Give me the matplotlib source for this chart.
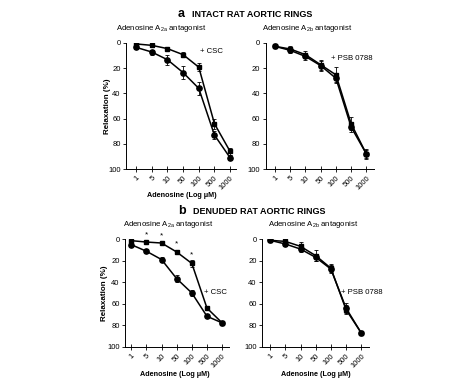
import matplotlib
matplotlib.use("Agg")
import matplotlib.pyplot as plt

plt.rcParams['font.family'] = ['Liberation Sans', 'DejaVu Sans']

doses = ['1', '5', '10', '50', '100', '500', '1000']

# panel a, intact rings
a_ctrl_a2a = [3.5, 7.2, 13.3, 23.5, 36, 73, 91]
a_ctrl_a2a_err = [1, 2, 4, 5, 5, 3, 2]
a_csc = [0.8, 1.9, 4.5, 9.3, 19.2, 64, 86]
a_csc_err = [1, 1, 1, 2, 3, 4, 3]
a_ctrl_a2b = [2.7, 5.9, 10.7, 18, 28, 66.7, 88]
a_ctrl_a2b_err = [1, 2, 3, 4, 4, 4, 3]
a_psb = [2.7, 4.8, 9.3, 17.3, 25.3, 64, 88]
a_psb_err = [1, 2, 3, 4, 6, 5, 4]

# panel b, denuded rings
b_ctrl_a2a = [5.2, 11.3, 19, 36.7, 50, 71.6, 77.7]
b_ctrl_a2a_err = [1, 2, 2, 3, 3, 1, 1]
b_csc = [1.5, 2.8, 3.7, 12, 22.6, 64, 77.7]
b_csc_err = [1, 1, 1, 2, 3, 2, 1]
b_ctrl_a2b = [1.2, 4.6, 9.3, 17, 27.8, 64, 87]
b_ctrl_a2b_err = [1, 2, 3, 3, 4, 5, 2]
b_psb = [1.2, 2.2, 6.8, 15.4, 27, 65.4, 87]
b_psb_err = [1, 2, 4, 5, 4, 4, 2]
b_star_idx = [1, 2, 3, 4]

fig = plt.figure(figsize=(4.74, 3.8), dpi=100)

axes_pos = [[0.266, 0.555, 0.232, 0.332],
            [0.561, 0.555, 0.228, 0.332],
            [0.264, 0.087, 0.219, 0.284],
            [0.553, 0.087, 0.226, 0.284]]
xlims = [(-0.64, 6.38), (-0.6, 6.5), (-0.4, 6.45), (-0.53, 6.53)]
axs = [fig.add_axes(p) for p in axes_pos]

x = list(range(len(doses)))

def draw(ax, ctrl, ctrl_err, trt, trt_err, xl):
    ax.errorbar(x, ctrl, yerr=ctrl_err, color='black', marker='o', ms=3.8,
                lw=1.1, elinewidth=0.6, capsize=1.5, capthick=0.6)
    ax.errorbar(x, trt, yerr=trt_err, color='black', marker='s', ms=3,
                lw=1.1, elinewidth=0.6, capsize=1.5, capthick=0.6)
    ax.set_ylim(100, 0)
    ax.set_xlim(*xl)
    ax.set_yticks([0, 20, 40, 60, 80, 100])
    ax.set_xticks(x)
    ax.set_xticklabels(doses, rotation=45, ha='right', rotation_mode='anchor')
    ax.spines['top'].set_visible(False)
    ax.spines['right'].set_visible(False)
    ax.spines['left'].set_linewidth(0.7)
    ax.spines['bottom'].set_linewidth(0.7)
    ax.tick_params(axis='both', labelsize=5.5, width=0.6, length=2, pad=2)
    ax.tick_params(axis='x', direction='inout', length=4)

draw(axs[0], a_ctrl_a2a, a_ctrl_a2a_err, a_csc, a_csc_err, xlims[0])
draw(axs[1], a_ctrl_a2b, a_ctrl_a2b_err, a_psb, a_psb_err, xlims[1])
draw(axs[2], b_ctrl_a2a, b_ctrl_a2a_err, b_csc, b_csc_err, xlims[2])
draw(axs[3], b_ctrl_a2b, b_ctrl_a2b_err, b_psb, b_psb_err, xlims[3])

axs[0].set_ylabel('Relaxation (%)', fontsize=5.8, fontweight='bold')
axs[0].yaxis.set_label_coords(-0.136, 0.5)
axs[2].set_ylabel('Relaxation (%)', fontsize=5.8, fontweight='bold')
axs[2].yaxis.set_label_coords(-0.163, 0.5)

sub_a = 'Adenosine A$_\\mathregular{2a}$ antagonist'
sub_b = 'Adenosine A$_\\mathregular{2b}$ antagonist'
fig.text(0.245, 0.926, sub_a, fontsize=5.6, va='center')
fig.text(0.553, 0.926, sub_b, fontsize=5.6, va='center')
fig.text(0.26, 0.408, sub_a, fontsize=5.6, va='center')
fig.text(0.565, 0.408, sub_b, fontsize=5.6, va='center')

axs[0].text(4.1, 7, '+ CSC', fontsize=5.6, ha='left', va='center')
axs[1].text(3.7, 12, '+ PSB 0788', fontsize=5.6, ha='left', va='center')
axs[2].text(4.8, 50, '+ CSC', fontsize=5.6, ha='left', va='center')
axs[3].text(4.7, 50, '+ PSB 0788', fontsize=5.6, ha='left', va='center')

for i in b_star_idx:
    axs[2].text(i, b_csc[i] - b_csc_err[i] - 2, '*', fontsize=6, ha='center',
                va='bottom', clip_on=False)

fig.text(0.384, 0.482, 'Adenosine (Log \u03bcM)', fontsize=5.2, fontweight='bold', ha='center')
fig.text(0.369, 0.01, 'Adenosine (Log \u03bcM)', fontsize=5.2, fontweight='bold', ha='center')
fig.text(0.667, 0.01, 'Adenosine (Log \u03bcM)', fontsize=5.2, fontweight='bold', ha='center')

fig.text(0.39, 0.955, 'a', fontsize=9, fontweight='bold', ha='right', va='baseline')
fig.text(0.405, 0.955, 'INTACT RAT AORTIC RINGS', fontsize=6.5, fontweight='bold', ha='left', va='baseline')
fig.text(0.392, 0.437, 'b', fontsize=9, fontweight='bold', ha='right', va='baseline')
fig.text(0.407, 0.437, 'DENUDED RAT AORTIC RINGS', fontsize=6.5, fontweight='bold', ha='left', va='baseline')

fig.savefig('out.png', dpi=100)
